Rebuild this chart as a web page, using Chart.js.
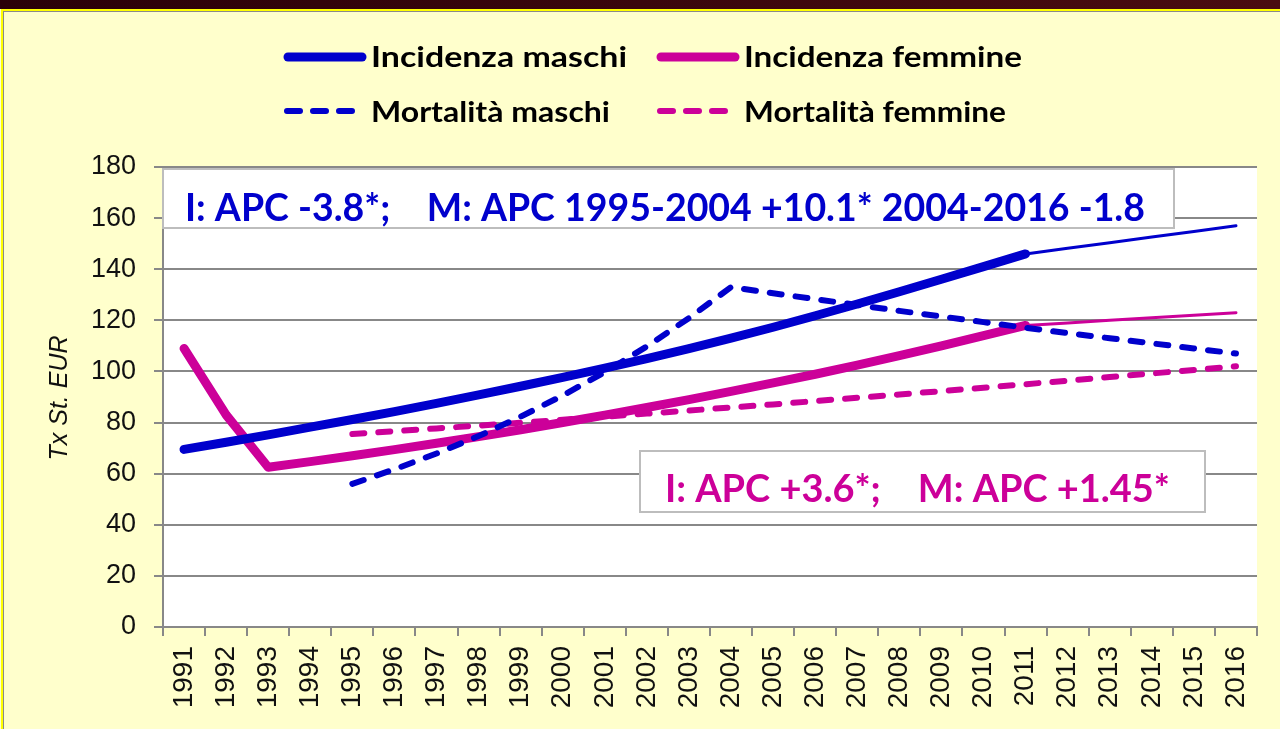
<!DOCTYPE html>
<html>
<head>
<meta charset="utf-8">
<script src="https://cdn.jsdelivr.net/npm/chart.js@4"></script>
<style>
  html, body { margin: 0; padding: 0; }
  body { width: 1280px; height: 729px; background: #FFFFCC; position: relative; overflow: hidden; }
  #band { position: absolute; left: 0; top: 0; width: 1280px; height: 9px; background: linear-gradient(to right, #2a0008, #4a0c10); }
  #frame { position: absolute; left: 1px; top: 9px; width: 1290px; height: 730px; border-top: 2px solid #ffff00; border-left: 2px solid #ffff00; }
  #frame2 { position: absolute; left: 3px; top: 11px; width: 1290px; height: 730px; border-top: 1px solid #8a8a8a; border-left: 1px solid #8a8a8a; }
  #wrap { position: absolute; left: 0; top: 0; width: 1280px; height: 729px; }
</style>
</head>
<body>
<div id="band"></div>
<div id="frame"></div>
<div id="frame2"></div>
<div id="wrap"><canvas id="chart" width="1280" height="729"></canvas></div>
<script>
const years = ["1991","1992","1993","1994","1995","1996","1997","1998","1999","2000","2001","2002","2003",
  "2004","2005","2006","2007","2008","2009","2010","2011","2012","2013","2014","2015","2016"]

const incMaschi = [69.5, 72.3, 75.2, 78.2, 81.2, 84.3, 87.5, 90.8, 94.2, 97.7, 101.3, 105, 108.9,
  113, 117.3, 121.8, 126.4, 131.2, 136.1, 141, 146, null, null, null, null, null]
const incMaschiProj = [null, null, null, null, null, null, null, null, null, null, null, null, null,
  null, null, null, null, null, null, null, 146, 148.2, 150.4, 152.6, 154.8, 157]
const incFemmine = [109, 83, 62.5, 64.7, 67, 69.4, 71.9, 74.5, 77.2, 80, 82.9, 85.9, 89,
  92.2, 95.5, 98.9, 102.5, 106.2, 110, 114, 118, null, null, null, null, null]
const incFemmineProj = [null, null, null, null, null, null, null, null, null, null, null, null, null,
  null, null, null, null, null, null, null, 118, 119, 120, 121, 122, 123]
const mortMaschi = [null, null, null, null, 56, 61.7, 67.9, 74.7, 82.3, 90.6, 99.7, 109.8, 120.9,
  133, 130.6, 128.3, 126, 123.7, 121.5, 119.3, 117.1, 115, 113, 111, 109, 107]
const mortFemmine = [null, null, null, null, 75.5, 76.6, 77.7, 78.8, 79.9, 81.1, 82.3, 83.5, 84.7,
  85.9, 87.1, 88.4, 89.7, 91, 92.3, 93.6, 95, 96.4, 97.8, 99.2, 100.6, 102]

const seriesNames = ["Incidenza maschi", "Incidenza femmine", "Mortalità maschi", "Mortalità femmine"]
const noteMaschi = "I: APC -3.8*;    M: APC 1995-2004 +10.1* 2004-2016 -1.8"
const noteFemmine = "I: APC +3.6*;    M: APC +1.45*"
const yTitle = "Tx St. EUR"

const BLUE = "#0000CC"
const MAG = "#CC0099"

// draw text stretched/squeezed to a given width
function fitText(c, text, x, y, w) {
  const m = c.measureText(text).width
  c.save()
  c.translate(x, y)
  c.scale(w / m, 1)
  c.fillText(text, 0, 0)
  c.restore()
}

// white plot area
const plotBg = {
  id: "plotBg",
  beforeDraw(chart) {
    const a = chart.chartArea, c = chart.ctx
    c.save()
    c.fillStyle = "#ffffff"
    c.fillRect(a.left, a.top, a.right - a.left, a.bottom - a.top)
    c.restore()
  }
}

function box(c, x, y, w, h, text, color, tx, ty, tw) {
  c.fillStyle = "#ffffff"
  c.fillRect(x, y, w, h)
  c.strokeStyle = "#bdbdbd"
  c.lineWidth = 2
  c.strokeRect(x, y, w, h)
  c.fillStyle = color
  c.font = "bold 39px Lato"
  c.textBaseline = "alphabetic"
  c.textAlign = "left"
  fitText(c, text, tx, ty, tw)
}

// note boxes sit above the grid, under the lines
const notes = {
  id: "notes",
  beforeDatasetsDraw(chart) {
    const c = chart.ctx
    c.save()
    box(c, 163, 169, 1011, 59, noteMaschi, BLUE, 185, 221, 960)
    box(c, 640, 451, 565, 61, noteFemmine, MAG, 665, 502, 505)
    c.restore()
  }
}

const legendAndTitle = {
  id: "legendAndTitle",
  afterDraw(chart) {
    const c = chart.ctx
    const items = [
      { x: 284, y: 57, ty: 67, color: BLUE, dash: false, tw: 256, name: seriesNames[0] },
      { x: 657, y: 57, ty: 67, color: MAG, dash: false, tw: 278, name: seriesNames[1] },
      { x: 284, y: 111, ty: 122, color: BLUE, dash: true, tw: 239, name: seriesNames[2] },
      { x: 657, y: 111, ty: 122, color: MAG, dash: true, tw: 262, name: seriesNames[3] }
    ]
    c.save()
    items.forEach(it => {
      c.strokeStyle = it.color
      c.lineCap = "round"
      if (it.dash) {
        c.lineWidth = 6
        c.setLineDash([13, 13])
        c.beginPath()
        c.moveTo(it.x + 3, it.y)
        c.lineTo(it.x + 72, it.y)
        c.stroke()
      } else {
        c.lineWidth = 9
        c.setLineDash([])
        c.beginPath()
        c.moveTo(it.x + 4, it.y)
        c.lineTo(it.x + 78, it.y)
        c.stroke()
      }
      c.setLineDash([])
      c.fillStyle = "#000000"
      c.font = "bold 29px Lato"
      c.textAlign = "left"
      c.textBaseline = "alphabetic"
      fitText(c, it.name, it.x + 87, it.ty, it.tw)
    })
    // y axis title
    c.translate(60, 398)
    c.rotate(-Math.PI / 2)
    c.font = "italic 25px 'Liberation Sans'"
    c.fillStyle = "#111111"
    c.textAlign = "center"
    c.textBaseline = "middle"
    c.fillText(yTitle, 0, 0)
    c.restore()
  }
}

const ctx = document.getElementById("chart").getContext("2d")

new Chart(ctx, {
  type: "line",
  data: {
    labels: years,
    datasets: [
      { label: seriesNames[0], data: incMaschi, borderColor: BLUE, borderWidth: 9 },
      { label: "", data: incMaschiProj, borderColor: BLUE, borderWidth: 3 },
      { label: seriesNames[2], data: mortMaschi, borderColor: BLUE, borderWidth: 6, borderDash: [12, 14] },
      { label: seriesNames[3], data: mortFemmine, borderColor: MAG, borderWidth: 6, borderDash: [12, 14] },
      { label: seriesNames[1], data: incFemmine, borderColor: MAG, borderWidth: 9 },
      { label: "", data: incFemmineProj, borderColor: MAG, borderWidth: 3 }
    ]
  },
  options: {
    responsive: false,
    animation: false,
    spanGaps: false,
    layout: { padding: { top: 167, right: 22, left: 0, bottom: 0 } },
    elements: {
      point: { radius: 0, hoverRadius: 0 },
      line: { tension: 0, borderCapStyle: "round", borderJoinStyle: "round", fill: false }
    },
    plugins: {
      legend: { display: false },
      tooltip: { enabled: false }
    },
    scales: {
      x: {
        offset: true,
        grid: { display: true, drawOnChartArea: false, offset: true, tickLength: 9, color: "#888888", lineWidth: 2 },
        border: { color: "#888888", width: 2 },
        ticks: {
          autoSkip: false, minRotation: 90, maxRotation: 90, padding: 10,
          color: "#111111", font: { family: "'Liberation Sans'", size: 28 }
        },
        afterFit(scale) { scale.height = 102 }
      },
      y: {
        min: 0, max: 180,
        grid: { color: "#888888", lineWidth: 2, tickLength: 9 },
        border: { color: "#888888", width: 2 },
        ticks: {
          stepSize: 20, padding: 18,
          color: "#111111", font: { family: "'Liberation Sans'", size: 27 }
        },
        afterFit(scale) { scale.width = 163 }
      }
    }
  },
  plugins: [plotBg, notes, legendAndTitle]
})
</script>
</body>
</html>
